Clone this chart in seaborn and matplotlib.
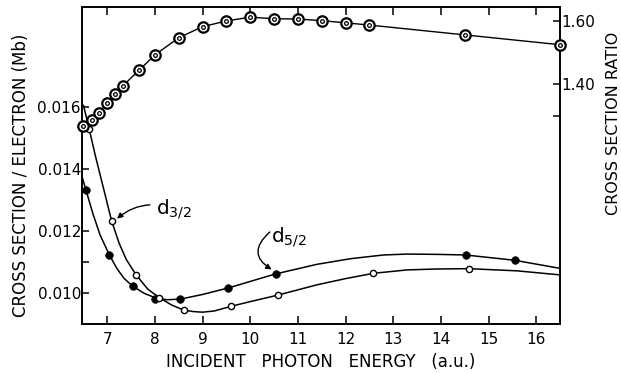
import matplotlib
matplotlib.use('Agg')
import matplotlib.pyplot as plt
import seaborn as sns

# cross section ratio (right axis, double circles)
ratio_x = [6.5, 6.67, 6.83, 7.0, 7.17, 7.33, 7.67, 8.0, 8.5, 9.0, 9.5, 10.0,
           10.5, 11.0, 11.5, 12.0, 12.5, 14.5, 16.5]
ratio_y = [1.268, 1.287, 1.310, 1.341, 1.369, 1.395, 1.444, 1.492, 1.546, 1.581,
           1.599, 1.611, 1.606, 1.605, 1.600, 1.593, 1.586, 1.555, 1.524]

# d5/2 points (filled) and d3/2 points (open)
d52_x = [6.55, 7.04, 7.53, 8.01, 8.53, 9.54, 10.53, 14.52, 15.55]
d52_y = [0.01333, 0.01124, 0.01023, 0.00983, 0.00982, 0.01017, 0.01062, 0.01124, 0.01106]
d32_x = [6.62, 7.09, 7.60, 8.09, 8.60, 9.60, 10.58, 12.58, 14.59]
d32_y = [0.01530, 0.01231, 0.01060, 0.00986, 0.00946, 0.00958, 0.00994, 0.01064, 0.01079]

# smooth curves as drawn in the figure
d52_curve_x = [6.48, 6.55, 6.70, 6.85, 7.04, 7.20, 7.35, 7.53, 7.77, 8.01, 8.25, 8.53,
               9.00, 9.54, 10.00, 10.53, 11.40, 12.10, 12.79, 13.29, 13.92, 14.52,
               15.55, 16.50]
d52_curve_y = [0.01370, 0.01333, 0.01255, 0.01187, 0.01124, 0.01080, 0.01048, 0.01023,
               0.01000, 0.00985, 0.00979, 0.00981, 0.00996, 0.01017, 0.01038, 0.01062,
               0.01093, 0.01111, 0.01123, 0.01126, 0.01125, 0.01123, 0.01106, 0.01080]
d32_curve_x = [6.50, 6.62, 6.75, 6.90, 7.09, 7.25, 7.40, 7.60, 7.85, 8.09, 8.35, 8.60,
               8.80, 9.00, 9.25, 9.60, 10.00, 10.58, 11.40, 12.00, 12.58, 13.29, 13.92,
               14.59, 15.60, 16.50]
d32_curve_y = [0.01605, 0.01528, 0.01442, 0.01350, 0.01233, 0.01160, 0.01108, 0.01060,
               0.01013, 0.00986, 0.00962, 0.00946, 0.00941, 0.00939, 0.00943, 0.00958,
               0.00973, 0.00994, 0.01027, 0.01047, 0.01064, 0.01075, 0.01078, 0.01079,
               0.01072, 0.01059]

x_ticks = [7, 8, 9, 10, 11, 12, 13, 14, 15, 16]
left_ticks = [0.010, 0.012, 0.014, 0.016]
right_ticks = [1.40, 1.60]

sns.set_style('ticks')
plt.rcParams['font.family'] = ['DejaVu Sans']
plt.rcParams['mathtext.fontset'] = 'dejavusans'
plt.rcParams.update({'text.color': 'black', 'axes.labelcolor': 'black',
                     'xtick.color': 'black', 'ytick.color': 'black',
                     'axes.edgecolor': 'black'})

fig = plt.figure(figsize=(6.21, 3.73), dpi=100)
ax = fig.add_axes([0.1325, 0.1314, 0.7693, 0.849])
ax2 = ax.twinx()

# lower curves
sns.lineplot(x=d32_curve_x, y=d32_curve_y, ax=ax, color='black', lw=1.1, sort=False)
sns.lineplot(x=d52_curve_x, y=d52_curve_y, ax=ax, color='black', lw=1.1, sort=False)
sns.scatterplot(x=d52_x, y=d52_y, ax=ax, color='black', s=30, edgecolor='black',
                linewidth=0.5, zorder=5)
sns.scatterplot(x=d32_x, y=d32_y, ax=ax, facecolor='white', s=20, edgecolor='black',
                linewidth=1.0, zorder=5)

# ratio curve
sns.lineplot(x=ratio_x, y=ratio_y, ax=ax2, color='black', lw=1.0, sort=False)
sns.scatterplot(x=ratio_x, y=ratio_y, ax=ax2, facecolor='white', edgecolor='black',
                s=56, linewidth=1.6, zorder=5, clip_on=False)
sns.scatterplot(x=ratio_x, y=ratio_y, ax=ax2, facecolor='white', edgecolor='black',
                s=7, linewidth=0.9, zorder=6, clip_on=False)

ax.set_xlim(6.475, 16.5)
ax.set_ylim(0.00901, 0.01920)
ax2.set_ylim(0.643, 1.642)

ax.set_xticks(x_ticks)
ax.set_xticklabels([str(t) for t in x_ticks])
ax.set_yticks(left_ticks)
ax.set_yticklabels(['%.3f' % t for t in left_ticks])
ax.set_yticks([0.011], minor=True)
ax2.set_yticks(right_ticks)
ax2.set_yticklabels(['%.2f' % t for t in right_ticks])
ax2.set_yticks([1.30], minor=True)

ax.tick_params(axis='x', which='both', direction='in', top=True, length=6,
               width=1.1, labelsize=11, pad=6)
ax.tick_params(axis='y', which='both', direction='in', length=5, width=1.1,
               labelsize=11, pad=1)
ax2.tick_params(axis='y', which='both', direction='in', length=5, width=1.1,
                labelsize=11, pad=1)
for a in (ax, ax2):
    for s in a.spines.values():
        s.set_linewidth(1.2)
        s.set_visible(True)

ax.set_xlabel('INCIDENT   PHOTON   ENERGY   (a.u.)', fontsize=12, labelpad=4)
ax.set_ylabel('CROSS SECTION / ELECTRON (Mb)', fontsize=12)
ax.yaxis.set_label_coords(-0.11, 0.47)
ax2.set_ylabel('CROSS SECTION RATIO', fontsize=11.5, rotation=90)
ax2.yaxis.set_label_coords(1.096, 0.633)

# labels with curved arrows
ax.annotate(r'$\mathregular{d_{3/2}}$', xy=(7.16, 0.01234), xytext=(8.02, 0.01272),
            fontsize=14.5, ha='left', va='center',
            arrowprops=dict(arrowstyle='-|>', color='black', lw=1,
                            connectionstyle='arc3,rad=0.3', shrinkA=2, shrinkB=2,
                            mutation_scale=8))
ax.text(10.44, 0.01180, r'$\mathregular{d_{5/2}}$', fontsize=14.5, ha='left', va='center')
ax.annotate('', xy=(10.50, 0.01072), xytext=(10.41, 0.01197),
            arrowprops=dict(arrowstyle='-|>', color='black', lw=1,
                            connectionstyle='arc3,rad=0.7', shrinkA=0, shrinkB=2,
                            mutation_scale=8))

plt.savefig('out.png', dpi=100)
